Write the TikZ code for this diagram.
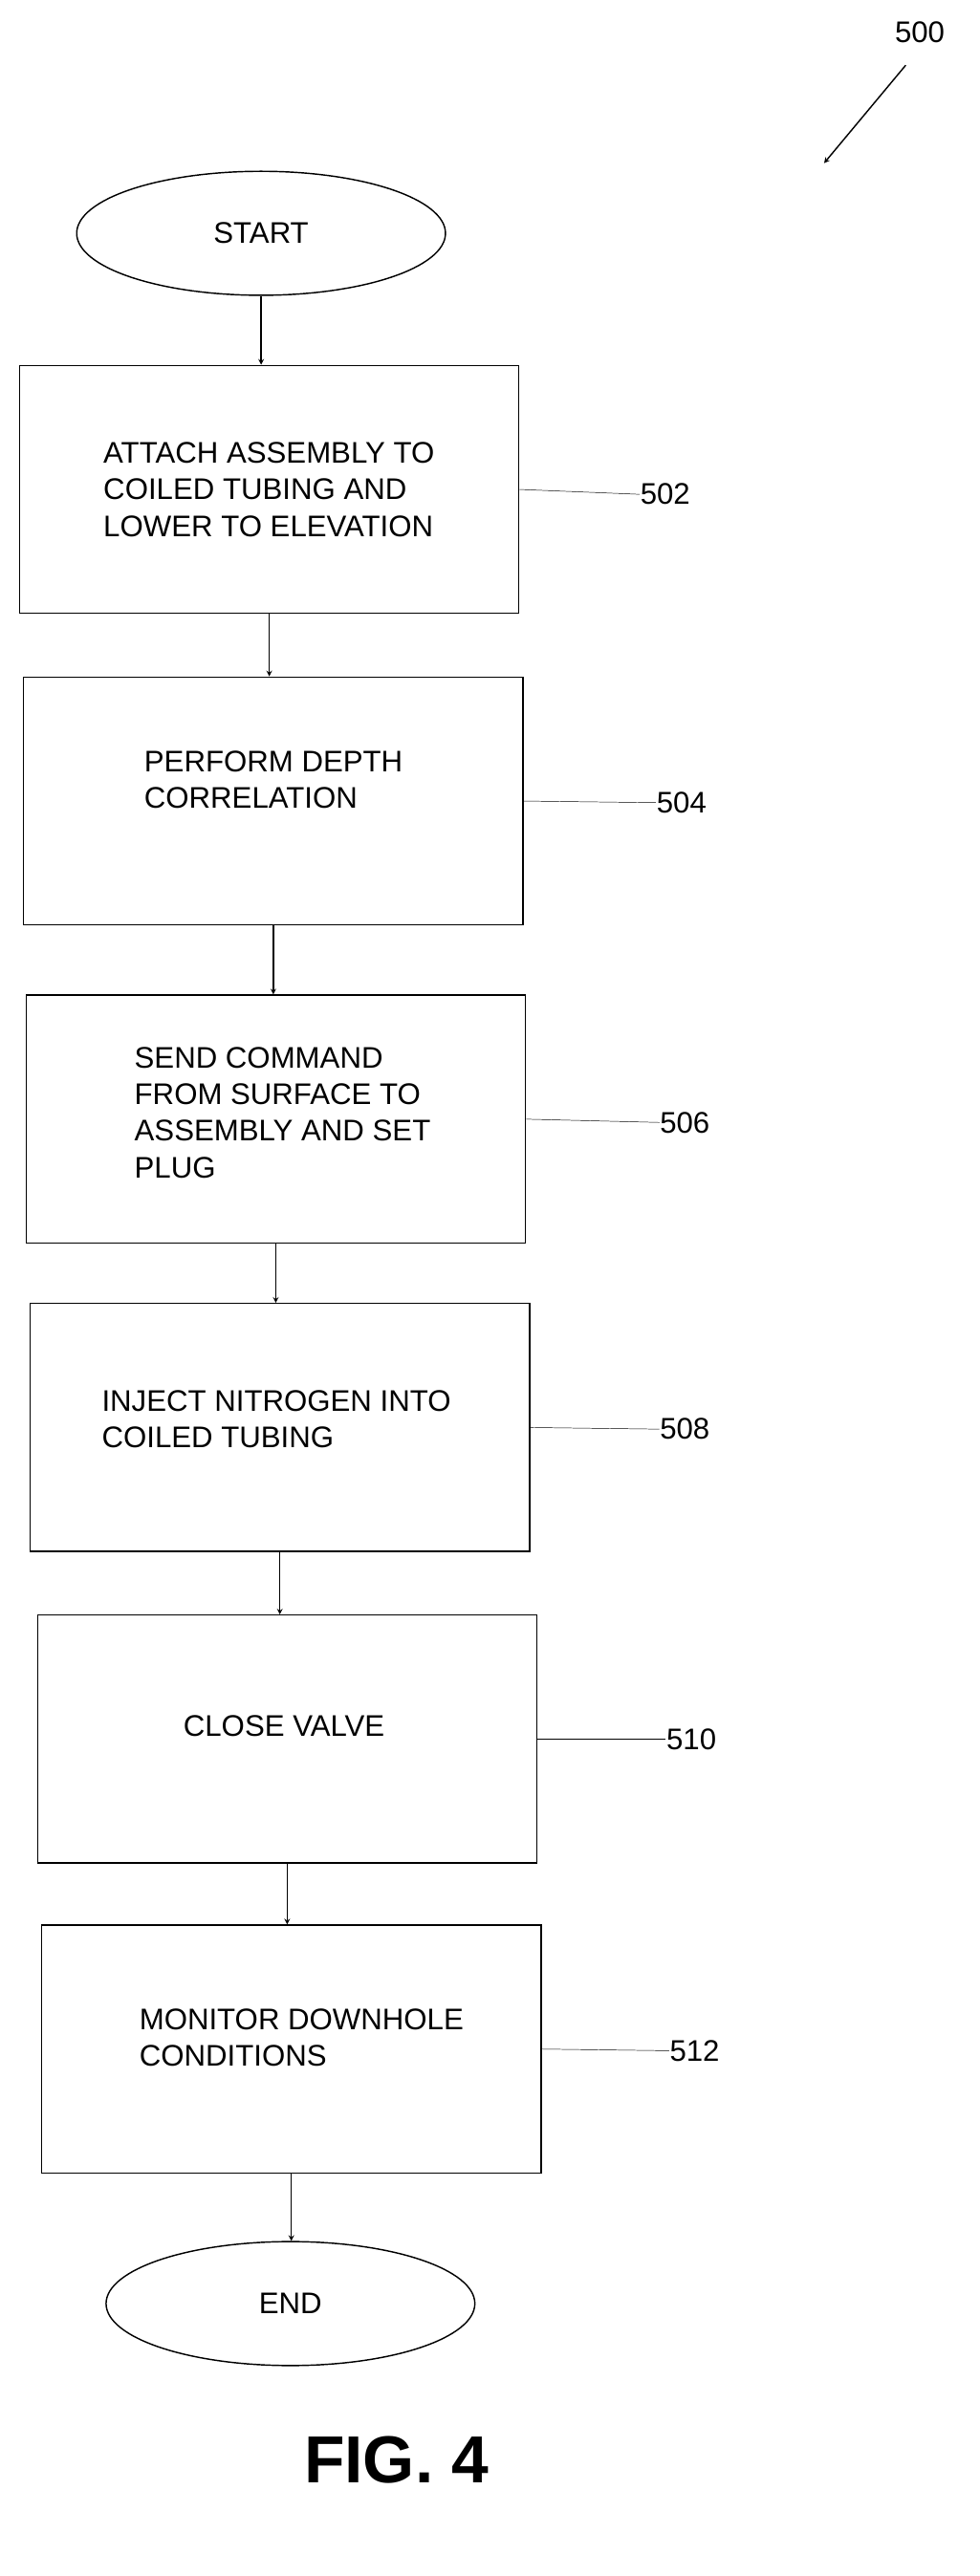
\documentclass[tikz,border=0pt]{standalone}
\usepackage{fontspec}
\setmainfont{Liberation Sans}
\usetikzlibrary{shapes.geometric}
\begin{document}
\begin{tikzpicture}
        [x=0.05cm, y=-0.05cm, line width=1.2pt,
        term/.style={ellipse, draw, minimum width=11.3cm, minimum height=3.8cm, font=\fontsize{26}{30}\selectfont},
        stepbox/.style={draw, minimum width=15.3cm, minimum height=7.6cm},
        txt/.style={anchor=west, align=left, font=\fontsize{26}{32}\selectfont, inner sep=0pt},
        num/.style={anchor=west, font=\fontsize{26}{30}\selectfont, inner sep=0pt},
        flow/.style={->, >=stealth},
        lead/.style={thin}]

        \useasboundingbox (0,0) rectangle (600,1579);

        % reference numeral
        \node[num] (n500) at (548,20) {500};
        \coordinate (a1) at (555,40);
        \coordinate (a2) at (505,100);
        \draw[flow] (a1) -- (a2);

        % terminals and steps
        \node[term] (start) at (160,143) {START};
        \node[stepbox] (s502) at (165,300) {};
        \node[stepbox] (s504) at (167.5,491) {};
        \node[stepbox] (s506) at (169,686) {};
        \node[stepbox] (s508) at (171.5,875) {};
        \node[stepbox] (s510) at (176,1066) {};
        \node[stepbox] (s512) at (178.5,1256) {};
        \node[term] (end) at (178,1412) {END};

        % step texts
        \node[txt] at (63,300) {ATTACH ASSEMBLY TO\\COILED TUBING AND\\LOWER TO ELEVATION};
        \node[txt] at (88,478) {PERFORM DEPTH\\CORRELATION};
        \node[txt] at (82,682) {SEND COMMAND\\FROM SURFACE TO\\ASSEMBLY AND SET\\PLUG};
        \node[txt] at (62,870) {INJECT NITROGEN INTO\\COILED TUBING};
        \node[txt] at (112,1058) {CLOSE VALVE};
        \node[txt] at (85,1249) {MONITOR DOWNHOLE\\CONDITIONS};

        % labels
        \node[num] (n502) at (392,303) {502};
        \node[num] (n504) at (402,492) {504};
        \node[num] (n506) at (404,688) {506};
        \node[num] (n508) at (404,876) {508};
        \node[num] (n510) at (408,1066) {510};
        \node[num] (n512) at (410,1257) {512};
        \draw[lead] (s502.east) -- (n502.west);
        \draw[lead] (s504.east) -- (n504.west);
        \draw[lead] (s506.east) -- (n506.west);
        \draw[lead] (s508.east) -- (n508.west);
        \draw[lead] (s510.east) -- (n510.west);
        \draw[lead] (s512.east) -- (n512.west);

        % flow arrows
        \draw[flow] (start) -- (start |- s502.north);
        \draw[flow] (s502) -- (s502 |- s504.north);
        \draw[flow] (s504) -- (s504 |- s506.north);
        \draw[flow] (s506) -- (s506 |- s508.north);
        \draw[flow] (s508) -- (s508 |- s510.north);
        \draw[flow] (s510) -- (s510 |- s512.north);
        \draw[flow] (s512) -- (s512 |- end.north);

        \node[font=\fontsize{58}{64}\selectfont\bfseries] (fig) at (243,1508) {FIG. 4};

    \end{tikzpicture}
\end{document}
